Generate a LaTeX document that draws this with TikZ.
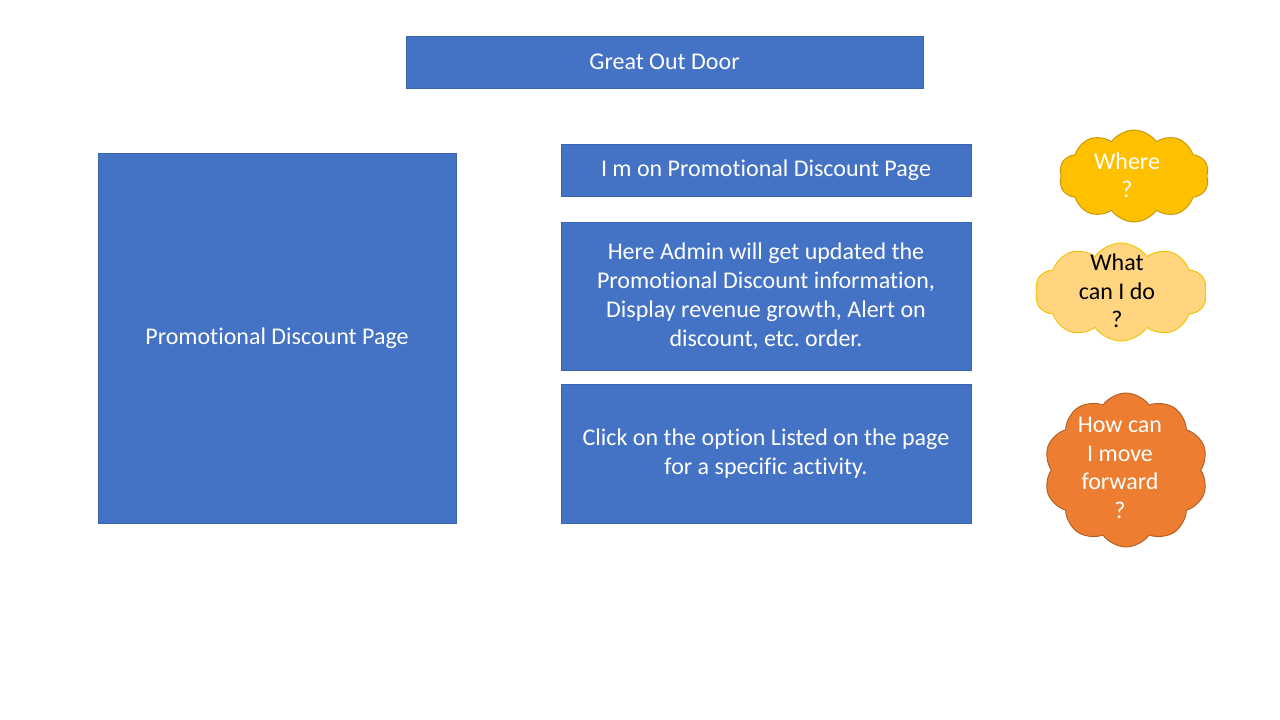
\documentclass[tikz,border=0pt]{standalone}
\usepackage{fontspec}
\setmainfont{Carlito}[Ligatures={NoCommon,NoContextual,NoRequired},RawFeature=-calt]
\newcommand\tiNoLig{t\kern0pt i}
\frenchspacing
\usetikzlibrary{shapes.symbols}
\definecolor{boxblue}{HTML}{4472C4}
\definecolor{boxline}{HTML}{3A64B0}
\definecolor{cgold}{HTML}{FFC000}
\definecolor{cgoldline}{HTML}{C59400}
\definecolor{clight}{HTML}{FFD67F}
\definecolor{clightline}{HTML}{F2C200}
\definecolor{corange}{HTML}{ED7D31}
\definecolor{corangeline}{HTML}{B05C22}
\begin{document}
\begin{tikzpicture}[x=1pt,y=-1pt,
  bluebox/.style={draw=boxline,line width=0.9pt,fill=boxblue,text=white,align=center,
    font=\fontsize{24}{29}\selectfont,inner sep=0pt},
  cloudshape/.style={cloud,cloud puffs=10,cloud puff arc=110,cloud ignores aspect,
    line width=0.9pt,inner sep=0pt},
  cloudtext/.style={align=center,font=\fontsize{24}{28.5}\selectfont,inner sep=0pt}]
\useasboundingbox (0,0) rectangle (1280,720);
\fill[white] (0,0) rectangle (1280,720);

\draw[bluebox] (406,36) rectangle (923,88) node[midway] (title) {Great Out Door};
\draw[bluebox] (98,153) rectangle (456,523) node[midway] (page) {Promo\tiNoLig onal Discount Page};
\draw[bluebox] (561,144) rectangle (971,196) node[midway] (b1) {I m on Promo\tiNoLig onal Discount Page};
\draw[bluebox] (561,222) rectangle (971,370) node[midway] (b2) {Here Admin will get updated the\\Promo\tiNoLig onal Discount informa\tiNoLig on,\\Display revenue growth, Alert on\\discount, etc. order.};
\draw[bluebox] (561,384) rectangle (971,523) node[midway] (b3) {Click on the op\tiNoLig on Listed on the page\\for a specific ac\tiNoLig vity.};

\node[cloudshape,draw=cgoldline,fill=cgold,minimum width=150pt,minimum height=92pt] (c1) at (1134,176) {};
\node[cloudtext,text=white] (t1) at (1127,175) {Where\\?};

\node[cloudshape,draw=clightline,fill=clight,minimum width=172pt,minimum height=98pt] (c2) at (1121,292) {};
\node[cloudtext,text=black] (t2) at (1117,291) {What\\can I do\\?};

\node[cloudshape,draw=corangeline,fill=corange,minimum width=164pt,minimum height=154pt] (c3) at (1126,470) {};
\node[cloudtext,text=white] (t3) at (1120,468) {How can\\I move\\forward\\?};
\end{tikzpicture}
\end{document}
